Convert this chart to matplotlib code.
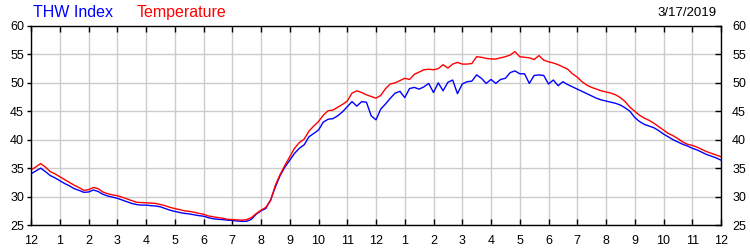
import numpy as np
import matplotlib
matplotlib.use('Agg')
import matplotlib.pyplot as plt

# readings every 10 minutes, midnight to midnight
TEMPERATURE = [
    34.7, 35.2, 35.8, 35.2, 34.4, 34.0,
    33.5, 33.0, 32.5, 32.0, 31.6, 31.1,
    31.2, 31.6, 31.4, 30.8, 30.5, 30.3,
    30.15, 29.9, 29.6, 29.3, 29.0, 28.95,
    28.9, 28.85, 28.8, 28.6, 28.4, 28.1,
    27.9, 27.7, 27.5, 27.4, 27.25, 27.05,
    26.9, 26.6, 26.45, 26.3, 26.2, 26.0,
    25.95, 25.9, 25.85, 25.95, 26.3, 27.0,
    27.6, 28.1, 29.3, 32.0, 33.9, 35.5,
    37.0, 38.5, 39.5, 40.1, 41.5, 42.4,
    43.2, 44.3, 45.1, 45.2, 45.7, 46.2,
    46.8, 48.2, 48.6, 48.3, 47.9, 47.6,
    47.3, 47.8, 49.0, 49.8, 50.0, 50.4,
    50.8, 50.6, 51.5, 51.9, 52.3, 52.4,
    52.3, 52.5, 53.2, 52.6, 53.3, 53.6,
    53.3, 53.3, 53.4, 54.6, 54.5, 54.3,
    54.2, 54.2, 54.4, 54.6, 54.9, 55.5,
    54.6, 54.5, 54.4, 54.1, 54.8, 54.0,
    53.7, 53.5, 53.2, 52.8, 52.4, 51.6,
    51.0, 50.2, 49.6, 49.2, 48.9, 48.6,
    48.4, 48.2, 47.9, 47.4, 46.7, 45.7,
    45.0, 44.3, 43.8, 43.4, 42.9, 42.3,
    41.7, 41.1, 40.7, 40.2, 39.6, 39.2,
    39.0, 38.7, 38.3, 37.9, 37.6, 37.3,
    37.0,
]
THW_INDEX = [
    34.0, 34.5, 35.0, 34.4, 33.7, 33.3,
    32.8, 32.3, 31.9, 31.4, 31.1, 30.75,
    30.8, 31.15, 30.9, 30.4, 30.1, 29.9,
    29.7, 29.4, 29.1, 28.8, 28.6, 28.5,
    28.5, 28.4, 28.35, 28.2, 27.9, 27.6,
    27.4, 27.2, 27.05, 26.95, 26.8, 26.65,
    26.55, 26.3, 26.1, 26.0, 25.95, 25.85,
    25.8, 25.7, 25.65, 25.65, 26.0, 26.9,
    27.5, 27.9, 29.4, 31.7, 33.7, 35.2,
    36.4, 37.6, 38.5, 39.1, 40.5, 41.1,
    41.7, 43.1, 43.6, 43.7, 44.2, 44.9,
    45.8, 46.7, 45.9, 46.7, 46.6, 44.2,
    43.5, 45.4, 46.3, 47.3, 48.2, 48.5,
    47.4, 49.0, 49.2, 48.9, 49.3, 49.9,
    48.3, 50.0, 48.6, 50.1, 50.5, 48.1,
    49.8, 50.2, 50.3, 51.4, 50.8, 49.9,
    50.6, 49.9, 50.6, 50.8, 51.8, 52.1,
    51.6, 51.6, 49.9, 51.3, 51.4, 51.3,
    49.8, 50.5, 49.5, 50.2, 49.7, 49.3,
    48.9, 48.5, 48.1, 47.7, 47.3, 47.0,
    46.8, 46.6, 46.4, 46.1, 45.6, 45.0,
    43.9, 43.2, 42.7, 42.4, 42.1, 41.6,
    41.0, 40.5, 40.0, 39.6, 39.2, 38.9,
    38.5, 38.2, 37.8, 37.4, 37.1, 36.8,
    36.4,
]
HOUR_LABELS = ['12', '1', '2', '3', '4', '5', '6', '7', '8', '9', '10', '11',
               '12', '1', '2', '3', '4', '5', '6', '7', '8', '9', '10', '11', '12']
Y_TICKS = [25, 30, 35, 40, 45, 50, 55, 60]
DATE = '3/17/2019'

plt.rcParams['font.family'] = ['Liberation Sans', 'DejaVu Sans']


def main():
    hours = np.arange(len(TEMPERATURE)) / 6.0
    fig = plt.figure(figsize=(7.5, 2.5), dpi=100)
    ax = fig.add_axes([31 / 750, 0.1, 690 / 750, 199 / 250])

    ax.plot(hours, THW_INDEX, color='#0000ff', lw=1.0)
    ax.plot(hours, TEMPERATURE, color='#ff0000', lw=1.0)

    ax.set_xlim(0, 24)
    ax.set_ylim(25, 60)
    ax.set_xticks(range(25))
    ax.set_xticklabels(HOUR_LABELS)
    ax.set_yticks(Y_TICKS)
    ax.grid(True, color='#cccccc', lw=1.0)
    ax.set_axisbelow(True)
    for s in ax.spines.values():
        s.set_color('black')
        s.set_linewidth(1.0)

    ax.tick_params(axis='x', which='both', direction='in', length=4, width=1,
                   top=True, labelsize=9, pad=7)
    ax.tick_params(axis='y', which='both', direction='out', length=3, width=1,
                   labelsize=9, pad=2)
    # right side labels
    ax2 = ax.twinx()
    ax2.set_ylim(25, 60)
    ax2.set_yticks(Y_TICKS)
    ax2.tick_params(axis='y', direction='in', length=4, width=1, labelsize=9, pad=8)
    for s in ax2.spines.values():
        s.set_visible(False)

    fig.text(33 / 750, 1 - 17 / 250, 'THW Index', color='#0000ff', fontsize=11.5,
             ha='left', va='baseline')
    fig.text(137 / 750, 1 - 17 / 250, 'Temperature', color='#ff0000', fontsize=11.5,
             ha='left', va='baseline')
    fig.text(717 / 750, 1 - 16 / 250, DATE, color='black', fontsize=9.5,
             ha='right', va='baseline')

    fig.savefig('out.png', dpi=100)


if __name__ == '__main__':
    main()
